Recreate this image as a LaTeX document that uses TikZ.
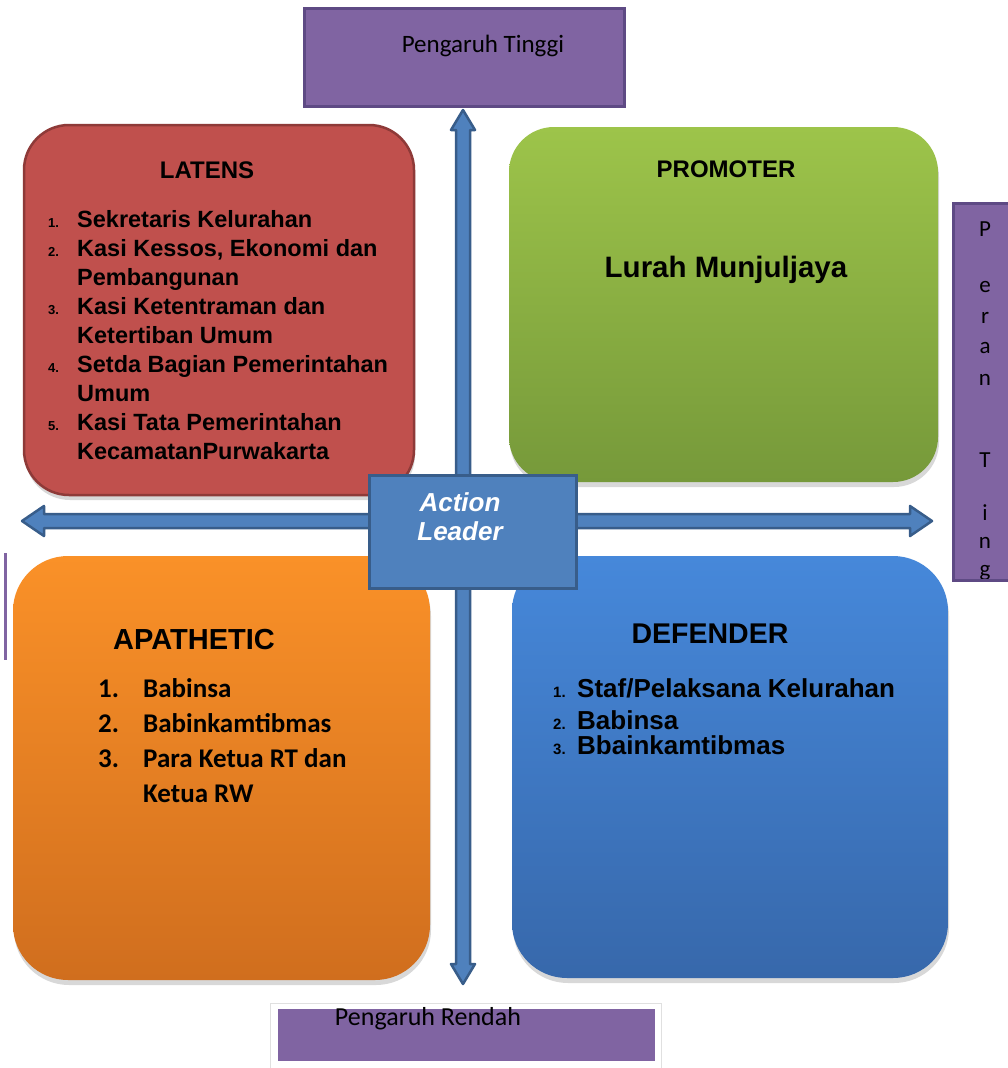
\documentclass[tikz,border=0pt]{standalone}
\usepackage{fontspec}
\setmainfont{Liberation Sans}
\newfontfamily\calibri{Carlito}
\usetikzlibrary{calc,shadows}

\definecolor{latensred}{HTML}{C0504D}
\definecolor{latensedge}{HTML}{8E3A38}
\definecolor{promotop}{HTML}{9DC44A}
\definecolor{promobot}{HTML}{76993A}
\definecolor{apatop}{HTML}{FA9128}
\definecolor{apabot}{HTML}{D06E1E}
\definecolor{deftop}{HTML}{4688DA}
\definecolor{defbot}{HTML}{3768AB}
\definecolor{axisblue}{HTML}{4F81BD}
\definecolor{axisedge}{HTML}{385D8A}
\definecolor{boxpurple}{HTML}{8064A2}
\definecolor{edgepurple}{HTML}{5E4A84}

\newcommand{\numbox}[3]{\makebox[#1][l]{\fontsize{#2}{#2}\selectfont #3}}

\begin{document}
\begin{tikzpicture}[x=1pt, y=1pt,
    quad/.style = {
      rectangle,
      rounded corners = 45pt,
      inner sep = 0pt,
      drop shadow = {shadow xshift=1pt, shadow yshift=-5pt, opacity=0.3}
    },
    purplebox/.style = {
      rectangle,
      fill = boxpurple,
      draw = edgepurple,
      line width = 3pt,
      inner sep = 0pt
    },
    axis/.style = {
      fill = axisblue,
      draw = axisedge,
      line width = 2.5pt,
      line join = round
    },
    title/.style = {font=\bfseries\fontsize{24}{24}\selectfont, anchor=base, inner sep=0pt},
    entries/.style = {align=left, anchor=base west, inner sep=0pt}
  ]
  \fill[white] (0,0) rectangle (1008,-1068);
  \useasboundingbox (0,0) rectangle (1008,-1068);

  \node[quad, fill=latensred, draw=latensedge, line width=2.5pt,
    minimum width=390, minimum height=370] (latens) at (219,-310) {};
  \node[quad, top color=promotop, bottom color=promobot,
    minimum width=429, minimum height=355] (promoter) at (723.5,-304.5) {};
  \node[quad, rounded corners=55pt, top color=apatop, bottom color=apabot,
    minimum width=417, minimum height=424] (apathetic) at (221.5,-768) {};
  \node[quad, rounded corners=55pt, top color=deftop, bottom color=defbot,
    minimum width=436, minimum height=422] (defender) at (730,-767) {};

  \node[purplebox, minimum width=320, minimum height=98] (tinggi) at (464,-57) {};
  \node[purplebox, minimum width=80, minimum height=377] (peran) at (993,-391.5) {};
  \fill[boxpurple] (3.5,-553) rectangle (6.5,-660);
  \node[rectangle, fill=white, draw=black!12, line width=1pt,
    drop shadow={shadow xshift=0pt, shadow yshift=-2pt, opacity=0.2},
    minimum width=391, minimum height=70] (frame) at (465.5,-1038) {};
  \node[rectangle, fill=boxpurple, inner sep=0pt,
    minimum width=377, minimum height=52] (rendah) at (466.5,-1035) {};

  \coordinate (vtip) at (463,-110);
  \coordinate (vend) at (463,-984);
  \coordinate (hleft) at (22,-521);
  \coordinate (hright) at (932,-521);
  \draw[axis] (vtip) -- ++(12,-20) -- ++(-5,0) -- ($(vend)+(7,20)$) -- ++(5,0) -- (vend)
    -- ++(-12,20) -- ++(5,0) -- ($(vtip)+(-7,-20)$) -- ++(-5,0) -- cycle;
  \draw[axis] (hleft) -- ++(22,15) -- ++(0,-8) -- ($(hright)+(-22,7)$) -- ++(0,8) -- (hright)
    -- ++(-22,-15) -- ++(0,8) -- ($(hleft)+(22,-7)$) -- ++(0,-8) -- cycle;

  \node[rectangle, fill=axisblue, draw=axisedge, line width=3pt, inner sep=0pt,
    minimum width=207, minimum height=113] (action) at (472.5,-531.5) {};
  \node[align=center, text=white, inner sep=0pt,
    font=\bfseries\itshape\fontsize{26}{29}\selectfont] (actiontext) at (460,-517) {Action\\Leader};

  \node[title] (latenstitle) at (207,-178) {LATENS};
  \node[entries, font=\bfseries\fontsize{23.5}{29}\selectfont] (latenslist) at (48,-459) {%
    \numbox{29pt}{13}{1.}Sekretaris Kelurahan\\
    \numbox{29pt}{13}{2.}Kasi Kessos, Ekonomi dan\\
    \hspace*{29pt}Pembangunan\\
    \numbox{29pt}{13}{3.}Kasi Ketentraman dan\\
    \hspace*{29pt}Ketertiban Umum\\
    \numbox{29pt}{13}{4.}Setda Bagian Pemerintahan\\
    \hspace*{29pt}Umum\\
    \numbox{29pt}{13}{5.}Kasi Tata Pemerintahan\\
    \hspace*{29pt}KecamatanPurwakarta};

  \node[title] (promotitle) at (726,-177) {PROMOTER};
  \node[title, font=\bfseries\fontsize{29.5}{29.5}\selectfont] (lurah) at (726,-277) {Lurah Munjuljaya};

  \node[title, anchor=base west, font=\bfseries\fontsize{29}{29}\selectfont] (apatitle) at (113,-649) {APATHETIC};
  \node[entries, font=\calibri\bfseries\fontsize{27}{35}\selectfont] (apalist) at (98,-802) {%
    \makebox[45pt][l]{1.}Babinsa\\
    \makebox[45pt][l]{2.}Babinkamtibmas\\
    \makebox[45pt][l]{3.}Para Ketua RT dan\\
    \hspace*{45pt}Ketua RW};

  \node[title, font=\bfseries\fontsize{28.5}{28.5}\selectfont] (deftitle) at (710,-643) {DEFENDER};
  \node[entries, font=\bfseries\fontsize{26}{25}\selectfont] (deflist) at (553,-754) {%
    \numbox{24pt}{15}{1.}Staf/Pelaksana Kelurahan\\[7pt]
    \numbox{24pt}{15}{2.}Babinsa\\
    \numbox{24pt}{15}{3.}Bbainkamtibmas};

  \node[anchor=base, inner sep=0pt, font=\calibri\fontsize{25}{25}\selectfont] (tinggitext) at (483,-52) {Pengaruh Tinggi};
  \node[anchor=base, inner sep=0pt, font=\calibri\fontsize{26}{26}\selectfont] (rendahtext) at (428,-1025) {Pengaruh Rendah};

  \begin{scope}
    \clip (955,-205) rectangle (1008,-578);
    \foreach \ch/\yy [count=\i] in {P/229,e/287,r/318,a/348,n/380,T/460,i/513,n/543,g/573}
      \node[inner sep=0pt, font=\calibri\fontsize{23}{23}\selectfont] (peran\i) at (985,-\yy) {\ch};
  \end{scope}
\end{tikzpicture}
\end{document}
